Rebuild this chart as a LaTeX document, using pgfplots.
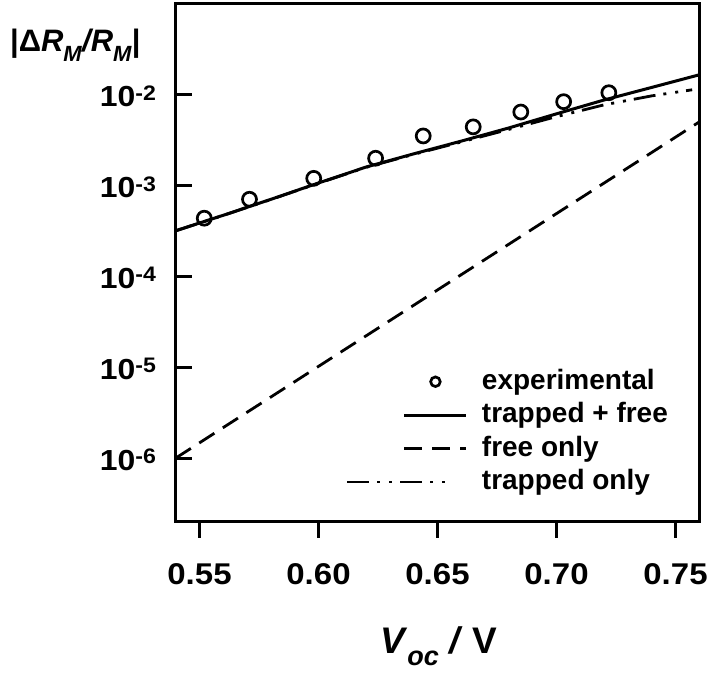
\documentclass[border=0pt]{standalone}
\usepackage{fontspec}
\setmainfont{Liberation Sans}
\newfontfamily\tickfont{Liberation Sans}[FakeStretch=1.1]
\usepackage{pgfplots}
\pgfplotsset{compat=1.18}

\newcommand{\ysup}[1]{\textbf{10\raisebox{3.3pt}{\fontsize{10.5}{10.5}\selectfont #1}}}

\pgfplotsset{
  explegend/.style={legend image code/.code={\path[draw=none,fill=none] (0pt,0pt) -- (31pt,0pt); \draw[##1, mark size=2.4pt] plot coordinates {(15.5pt,0pt)};}},
  traplegend/.style={legend image code/.code={\path[draw=none,fill=none] (0pt,0pt) -- (31pt,0pt); \draw[##1, overlay] (-28.5pt,0pt) -- (22.5pt,0pt);}},
}

\begin{document}
\begin{tikzpicture}
\begin{axis}[
  scale only axis,
  width=261.8pt, height=259.2pt,
  ymode=log,
  xmin=0.54, xmax=0.76,
  ymin=2e-7, ymax=0.1,
  axis line style={line width=1.6pt},
  tick pos=left,
  xtick align=outside,
  ytick align=inside,
  major tick length=8pt,
  tick style={line width=1.5pt, black},
  yminorticks=false,
  xtick={0.55,0.60,0.65,0.70,0.75},
  xticklabels={0.55,0.60,0.65,0.70,0.75},
  ytick={1e-6,1e-5,1e-4,1e-3,1e-2},
  yticklabels={\ysup{-6},\ysup{-5},\ysup{-4},\ysup{-3},\ysup{-2}},
  xticklabel style={font=\tickfont\fontsize{15}{15}\selectfont\bfseries, anchor=center, inner sep=0pt, yshift=-18.15pt},
  yticklabel style={font=\tickfont\fontsize{14.5}{14.5}\selectfont\bfseries, anchor=base east, inner sep=0pt, xshift=-9.65pt, yshift=-6.2pt},
  legend image code/.code={\draw[mark repeat=2,mark phase=2,#1] plot coordinates {(0pt,0pt) (15.5pt,0pt) (31pt,0pt)};},
  legend cell align=left,
  legend style={at={(axis description cs:0.434,0.298)}, anchor=north west,
    draw=none, fill=none, inner sep=0pt, outer sep=0pt,
    row sep=2.2pt, column sep=7pt,
    font=\fontsize{14}{14}\selectfont\bfseries,
    nodes={inner sep=0pt, text height=11pt, text depth=3.5pt}},
]
\coordinate (BL) at (rel axis cs:0,0);
\coordinate (TL) at (rel axis cs:0,1);

\addplot[only marks, mark=o, mark size=3.5pt, mark options={line width=1.35pt, black}, explegend]
  coordinates {
  (0.552,4.34e-4) (0.571,7.01e-4) (0.598,1.19e-3) (0.624,1.98e-3) (0.644,3.48e-3)
  (0.665,4.38e-3) (0.685,6.38e-3) (0.703,8.29e-3) (0.722,1.04e-2)
};
\addlegendentry{experimental}

\addplot[black, line width=1.5pt] coordinates {
  (0.54,3.162e-4) (0.56,4.677e-4) (0.58,6.998e-4) (0.60,1.059e-3) (0.62,1.585e-3)
  (0.64,2.213e-3) (0.66,3.055e-3) (0.68,4.266e-3) (0.70,6.095e-3) (0.72,8.650e-3)
  (0.74,1.189e-2) (0.76,1.637e-2)
};
\addlegendentry{trapped + free}

\addplot[black, line width=1.4pt, dash pattern=on 9pt off 5pt] coordinates {
  (0.54,1.00e-6) (0.56,2.17e-6) (0.58,4.70e-6) (0.60,1.02e-5) (0.62,2.21e-5)
  (0.64,4.79e-5) (0.66,1.04e-4) (0.68,2.25e-4) (0.70,4.88e-4) (0.72,1.057e-3)
  (0.74,2.29e-3) (0.76,4.97e-3)
};
\addlegendentry{free only}

\addplot[black, line width=1.4pt, dash pattern=on 11pt off 4pt on 1.5pt off 4.5pt on 1.5pt off 4pt, traplegend]
  coordinates {
  (0.54,3.15e-4) (0.56,4.66e-4) (0.58,6.97e-4) (0.60,1.053e-3) (0.62,1.572e-3)
  (0.64,2.185e-3) (0.66,2.990e-3) (0.68,4.110e-3) (0.70,5.680e-3) (0.72,7.65e-3)
  (0.74,9.60e-3) (0.757,1.12e-2)
};
\addlegendentry{trapped only}
\end{axis}

\node[anchor=base west, xshift=-83pt, yshift=-24.2pt, inner sep=0pt] at (TL)
  {\fontsize{15.5}{15.5}\selectfont\bfseries |Δ\textit{R}\raisebox{-5pt}{\fontsize{11}{11}\selectfont\textit{M}}\textit{/R}\raisebox{-5pt}{\fontsize{11}{11}\selectfont\textit{M}}|};

\node[anchor=base, inner sep=0pt, yshift=-65.8pt, xshift=131.6pt] at (BL)
  {\fontsize{18.5}{18.5}\selectfont\bfseries\textit{V}\raisebox{-6.3pt}{\fontsize{13.5}{13.5}\selectfont\textit{oc}} \textit{/} V};

\pgfresetboundingbox
\path[use as bounding box] (BL) ++(-87.85pt,-75.65pt) rectangle ++(355pt,336.5pt);
\end{tikzpicture}
\end{document}
